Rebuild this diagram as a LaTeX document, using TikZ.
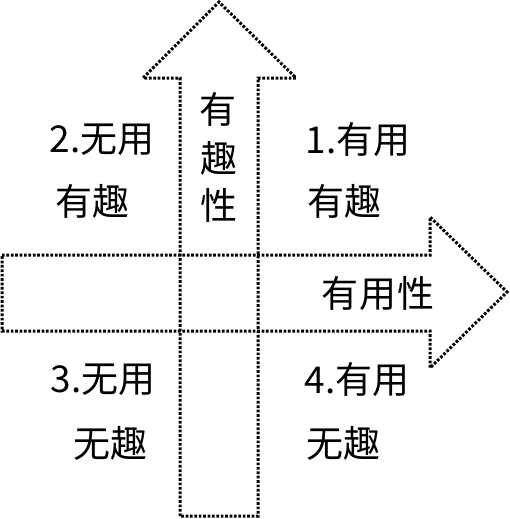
\documentclass[tikz,border=0pt]{standalone}
\usepackage{fontspec}
\setmainfont{Noto Sans CJK SC}
\begin{document}
\begin{tikzpicture}[x=1pt,y=-1pt,
  outline/.style={draw=black,line width=3pt,dash pattern=on 2.7pt off 1.7pt,line join=miter},
  lbl/.style={inner sep=0pt,font=\fontsize{37}{44}\selectfont}]
\useasboundingbox (0,0) rectangle (509,519);
% vertical arrow
\draw[outline] (180,516) -- (180,78) -- (143,78) -- (219,2) -- (296,78) -- (258,78) -- (258,516) -- cycle;
% horizontal arrow
\draw[outline] (2,255) -- (430,255) -- (430,217) -- (507,292) -- (430,368) -- (430,331) -- (2,331) -- cycle;
% quadrant labels
\node[lbl] (q2a) at (102,140) {2.无用};
\node[lbl] (q2b) at (92,201) {有趣};
\node[lbl] (q1a) at (358,140) {1.有用};
\node[lbl] (q1b) at (344,201) {有趣};
\node[lbl] (q3a) at (103,380) {3.无用};
\node[lbl] (q3b) at (110,443) {无趣};
\node[lbl] (q4a) at (357,380) {4.有用};
\node[lbl] (q4b) at (343,443) {无趣};
% axis labels
\node[lbl] (v1) at (218,109) {有};
\node[lbl] (v2) at (219,158) {趣};
\node[lbl] (v3) at (219,205) {性};
\node[lbl] (h) at (378,294) {有\hspace{1pt}用\hspace{1pt}性};
\end{tikzpicture}
\end{document}
